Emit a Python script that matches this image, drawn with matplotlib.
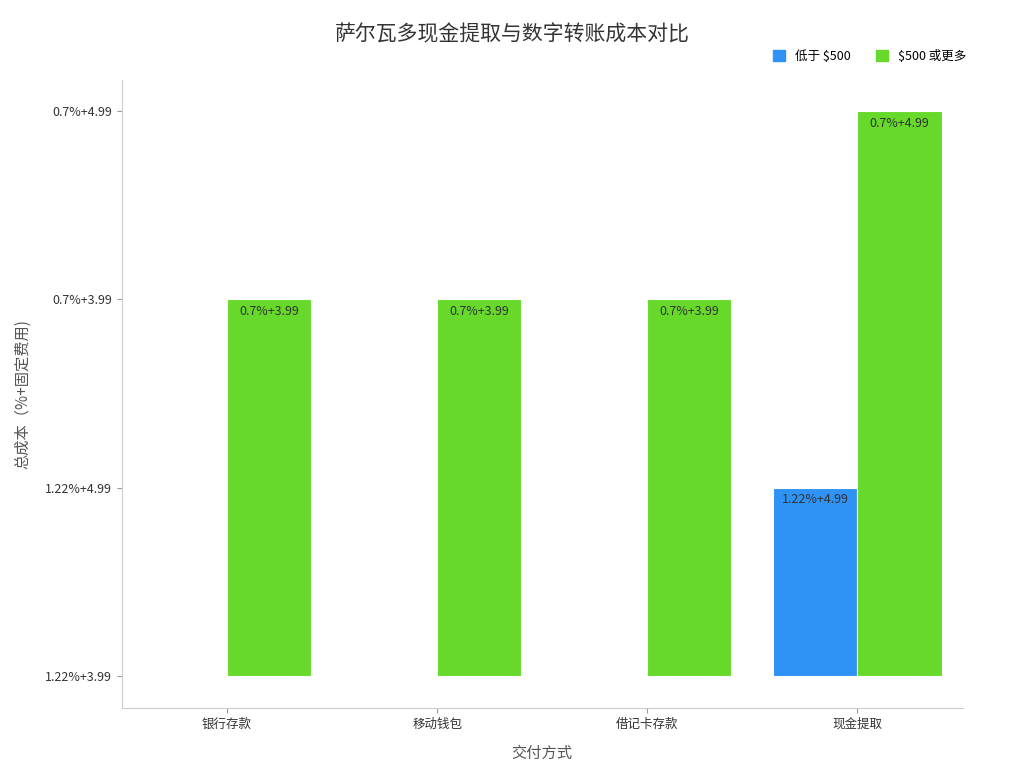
import matplotlib.pyplot as plt
from matplotlib.patches import Patch

plt.rcParams['font.family'] = ['Noto Sans CJK SC', 'DejaVu Sans']

categories = ["银行存款", "移动钱包", "借记卡存款", "现金提取"]
y_levels = ["1.22%+3.99", "1.22%+4.99", "0.7%+3.99", "0.7%+4.99"]
# index into y_levels; None means no bar
under_500 = [None, None, None, 1]
over_500 = [2, 2, 2, 3]

blue = "#2E93F5"
green = "#66D92A"

fig, ax = plt.subplots(figsize=(10.24, 7.68), dpi=100)
fig.subplots_adjust(left=0.119, right=0.94, top=0.896, bottom=0.078)

w = 0.4
for i, cat in enumerate(categories):
    for val, off, col in [(under_500[i], -w / 2, blue), (over_500[i], w / 2, green)]:
        if val is None:
            continue
        ax.bar(i + off, val, width=w, color=col, edgecolor="white", linewidth=0.8)
        ax.text(i + off, val - 0.03, y_levels[val], ha="center", va="top",
                fontsize=9, color="#333333")

ax.set_xticks(range(len(categories)))
ax.set_xticklabels(categories, fontsize=9, color="#333333")
ax.set_yticks(range(len(y_levels)))
ax.set_yticklabels(y_levels, fontsize=9, color="#333333")
ax.set_xlim(-0.5, 3.5)
ax.set_ylim(-0.17, 3.165)

for s in ["top", "right"]:
    ax.spines[s].set_visible(False)
for s in ["left", "bottom"]:
    ax.spines[s].set_color("#cccccc")
ax.tick_params(colors="#999999", labelcolor="#333333")

ax.set_xlabel("交付方式", fontsize=11, color="#555555", labelpad=10)
ax.set_ylabel("总成本（%+固定费用)", fontsize=11, color="#555555", labelpad=10)
fig.suptitle("萨尔瓦多现金提取与数字转账成本对比", fontsize=15, color="#333333", y=0.97)

handles = [Patch(color=blue, label="低于 $500"), Patch(color=green, label="$500 或更多")]
fig.legend(handles=handles, loc="upper right", bbox_to_anchor=(0.955, 0.95), ncol=2,
           frameon=False, fontsize=9, handlelength=1, handleheight=1, columnspacing=2)

fig.savefig("out.png", dpi=100)
